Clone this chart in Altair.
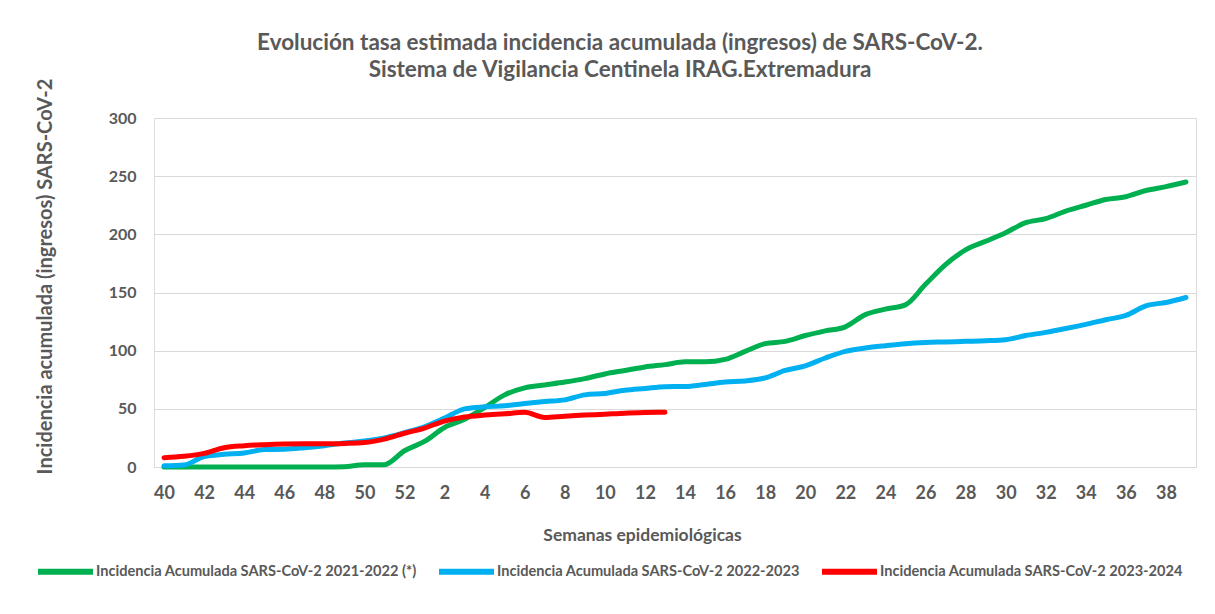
import altair as alt
import pandas as pd

weeks = [str(w) for w in list(range(40, 53)) + list(range(1, 40))]
tick_labels = [str(w) for w in [40, 42, 44, 46, 48, 50, 52, 2, 4, 6, 8, 10, 12, 14, 16, 18,
                                20, 22, 24, 26, 28, 30, 32, 34, 36, 38]]

series_names = [
    "Incidencia Acumulada SARS-CoV-2 2021-2022 (*)",
    "Incidencia Acumulada SARS-CoV-2 2022-2023",
    "Incidencia Acumulada SARS-CoV-2 2023-2024",
]
series_colors = ["#00B050", "#00B0F0", "#FF0000"]

s2021 = [0, 0, 0, 0, 0, 0, 0, 0, 0, 0.3, 2, 2, 14, 22, 34, 41, 51, 62, 68, 70.5,
         73, 76, 80, 83, 86, 88, 90.4, 90.4, 92.5, 99.4, 106, 108, 113, 117, 120.5, 131,
         135.7, 139.4, 157, 174, 186.6, 194, 201.4, 210, 213.5, 220, 225, 230, 232.3,
         237.7, 241, 245]
s2022 = [1, 1.7, 9, 10.9, 12, 15, 15.3, 16.6, 18.3, 20.6, 22.3, 25, 29.5, 34.6, 42, 50,
         51.7, 52.6, 54.6, 56.3, 57.7, 62, 63.2, 66, 67.5, 69, 69.2, 71, 73, 74, 76.6,
         83, 87, 93.7, 99.4, 102.3, 104.3, 106, 107, 107.5, 108, 108.5, 109.4, 113,
         115.7, 119, 122.6, 126.6, 130.3, 138.6, 141.4, 145.7]
s2023 = [8, 9.2, 11.7, 16.6, 18.3, 19.2, 19.8, 20, 20, 20.3, 21, 24, 29, 33.5, 39.5,
         43, 44.6, 45.7, 47, 42.5, 43.7, 44.6, 45.4, 46.3, 46.8, 47.1]

rows = []
for name, vals in zip(series_names, [s2021, s2022, s2023]):
    for i, v in enumerate(vals):
        rows.append({"semana": weeks[i], "orden": i, "serie": name, "valor": v})
df = pd.DataFrame(rows)

FONT = "Lato"
GRAY = "#595959"

chart = alt.Chart(df).mark_line(
    strokeWidth=5, strokeCap="round", strokeJoin="round", interpolate="monotone"
).encode(
    x=alt.X("semana:N", sort=weeks, scale=alt.Scale(domain=weeks, padding=0.5),
            axis=alt.Axis(title="Semanas epidemiológicas", values=tick_labels,
                          labelAngle=0, labelFont=FONT, labelFontSize=18,
                          labelFontWeight="bold", labelColor=GRAY, labelPadding=17,
                          ticks=False, domain=True, domainColor="#D9D9D9",
                          grid=False, titleFont=FONT, titleFontSize=17.5,
                          titleFontWeight="bold", titleColor=GRAY,
                          titleX=488, titleY=68, titleBaseline="middle")),
    y=alt.Y("valor:Q", scale=alt.Scale(domain=[0, 300], nice=False),
            axis=alt.Axis(title="Incidencia acumulada (ingresos) SARS-CoV-2",
                          values=[0, 50, 100, 150, 200, 250, 300],
                          labelFont=FONT, labelFontSize=16, labelFontWeight="bold",
                          labelColor=GRAY, labelPadding=18, ticks=False, domain=False,
                          grid=True, gridColor="#D9D9D9", gridWidth=1,
                          titleFont=FONT, titleFontSize=20, titleFontWeight="bold",
                          titleColor=GRAY, titleAngle=270, titleX=-109, titleY=158,
                          titleBaseline="middle", titleAlign="center")),
    color=alt.Color("serie:N", scale=alt.Scale(domain=series_names, range=series_colors),
                    legend=alt.Legend(title=None, orient="none", direction="horizontal",
                                      legendX=-119, legendY=423,
                                      symbolType="stroke", symbolSize=3025,
                                      symbolStrokeWidth=6, labelFont=FONT,
                                      labelFontSize=14.6, labelFontWeight="bold",
                                      labelColor=GRAY, labelOffset=0,
                                      columnPadding=10, labelLimit=600)),
    order="orden:Q",
).properties(
    width=1042,
    height=349,
    title=alt.TitleParams(
        text=["Evolución tasa estimada incidencia acumulada (ingresos) de SARS-CoV-2.",
              "Sistema de Vigilancia Centinela IRAG.Extremadura"],
        font=FONT, fontSize=22.5, fontWeight="bold", color=GRAY, anchor="middle",
        dx=-55, offset=-3, lineHeight=27),
    autosize=alt.AutoSizeParams(type="none"),
    padding={"left": 146, "top": 110, "right": 10, "bottom": 130},
).configure_view(stroke=None).configure(background="white")

chart.save("out.html", embed_options={"renderer": "svg", "actions": False})
